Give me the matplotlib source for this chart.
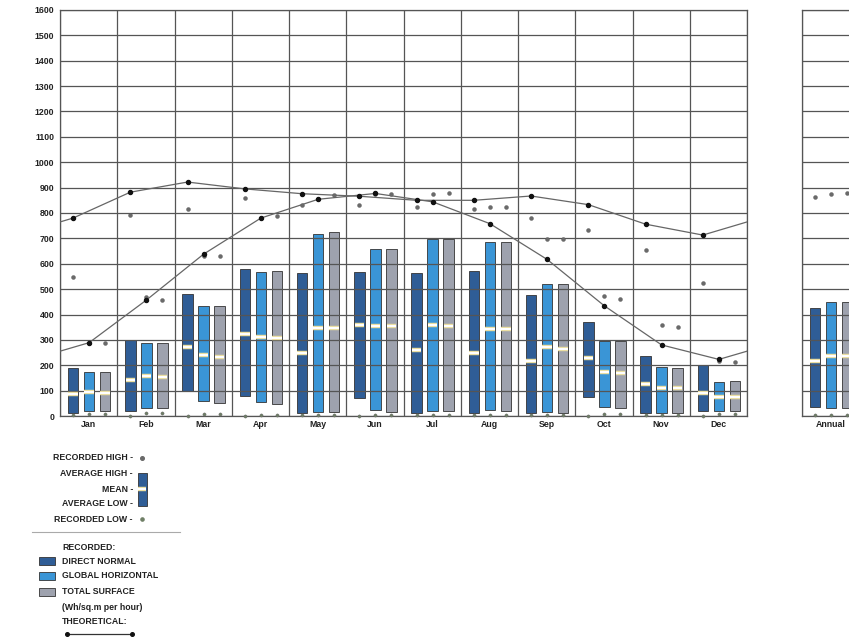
import numpy as np
import matplotlib
matplotlib.use('Agg')
import matplotlib.pyplot as plt
from matplotlib.patches import Rectangle

plt.rcParams['font.family'] = ['Liberation Sans', 'DejaVu Sans']

months = ['Jan', 'Feb', 'Mar', 'Apr', 'May', 'Jun', 'Jul', 'Aug', 'Sep', 'Oct', 'Nov', 'Dec']

# recorded radiation (Wh/sq.m per hour): average high / average low / mean / recorded high / recorded low
directHigh = [188, 298, 480, 580, 562, 568, 565, 572, 476, 371, 236, 201]
directLow = [11, 21, 100, 79, 10, 72, 10, 10, 10, 76, 10, 21]
directMean = [85, 142, 273, 323, 249, 358, 260, 249, 218, 230, 125, 89]
directRecHigh = [548, 791, 814, 860, 833, 833, 824, 814, 781, 732, 654, 526]
directRecLow = [2, 0, 0, 0, 3, 0, 3, 3, 3, 0, 3, 0]

globalHigh = [172, 289, 433, 567, 719, 657, 697, 686, 522, 297, 194, 135]
globalLow = [20, 30, 60, 55, 17, 24, 21, 24, 17, 37, 10, 21]
globalMean = [93, 157, 240, 310, 348, 356, 358, 341, 270, 175, 112, 74]
globalRecHigh = [289, 467, 630, 780, 854, 875, 875, 824, 696, 472, 358, 215]
globalRecLow = [6, 10, 8, 3, 3, 5, 5, 5, 5, 8, 3, 8]

totalHigh = [173, 286, 433, 571, 726, 660, 697, 686, 520, 297, 188, 139]
totalLow = [21, 30, 50, 46, 17, 14, 21, 21, 13, 30, 10, 21]
totalMean = [89, 155, 234, 306, 348, 356, 356, 341, 266, 168, 109, 76]
totalRecHigh = [287, 459, 630, 787, 870, 873, 877, 824, 696, 463, 349, 214]
totalRecLow = [6, 10, 8, 3, 3, 5, 5, 5, 5, 8, 3, 8]

# theoretical clear sky values
theoDirect = [780, 882, 922, 895, 876, 866, 850, 850, 867, 833, 756, 713]
theoGlobal = [289, 457, 638, 780, 854, 877, 844, 758, 617, 434, 280, 223]

# annual summary: direct, global, total
annualHigh = [424, 450, 450]
annualLow = [35, 30, 30]
annualMean = [217, 236, 236]
annualRecHigh = [864, 873, 877]
annualRecLow = [4, 4, 4]

colDirect = '#2f5d96'
colGlobal = '#3a95d6'
colTotal = '#9ea2ae'
gridCol = '#555555'
txtCol = '#222222'
fs = 6.3
W, H = 849, 637

offsets = [0.228, 0.509, 0.789]
barW = 0.185


def drawBar(ax, x, lo, hi, mean, recHi, recLo, col):
    ax.bar(x, hi - lo, bottom=lo, width=barW, color=col, edgecolor='#333333',
           linewidth=0.6, zorder=1)
    ax.hlines(mean, x - barW/2 + 0.01, x + barW/2 - 0.01, color='#e9dc98', lw=3.2, zorder=4)
    ax.hlines(mean, x - barW/2 + 0.01, x + barW/2 - 0.01, color='white', lw=1.6, zorder=5)
    ax.plot(x, recHi, 'o', ms=2.8, color='#6a6a6a', mec='#555555', mew=0.3, zorder=6)
    ax.plot(x, recLo, 'o', ms=2.3, color='#6f7f66', mec='#666666', mew=0.3, zorder=6,
            clip_on=False)


def styleAxes(ax):
    ax.set_ylim(0, 1600)
    ax.set_yticks(np.arange(0, 1601, 100))
    ax.grid(True, color=gridCol, lw=0.9)
    ax.set_axisbelow(False)
    for s in ax.spines.values():
        s.set_color(gridCol)
        s.set_linewidth(0.9)
    ax.tick_params(length=0)


fig = plt.figure(figsize=(W/100, H/100), dpi=100)
fig.patch.set_facecolor('white')

ax = fig.add_axes([60/W, 1 - 416/H, 687/W, 406/H])
styleAxes(ax)
ax.set_xlim(0, 12)
ax.set_xticks(np.arange(0, 13))
ax.set_xticklabels([])
ax.set_xticks(np.arange(12) + 0.5, minor=True)
ax.set_xticklabels(months, minor=True, fontsize=fs, fontweight='bold', color=txtCol)
ax.tick_params(axis='x', which='minor', length=0, pad=3)
ax.tick_params(axis='y', labelsize=fs, pad=4, labelcolor=txtCol)
for t in ax.get_yticklabels():
    t.set_fontweight('bold')

series = [
    (directLow, directHigh, directMean, directRecHigh, directRecLow, colDirect),
    (globalLow, globalHigh, globalMean, globalRecHigh, globalRecLow, colGlobal),
    (totalLow, totalHigh, totalMean, totalRecHigh, totalRecLow, colTotal),
]
for i in range(12):
    for k, (lo, hi, mn, rh, rl, col) in enumerate(series):
        drawBar(ax, i + offsets[k], lo[i], hi[i], mn[i], rh[i], rl[i], col)

# theoretical curves wrap round the year, clipped at the axes edges
for vals, off in [(theoDirect, offsets[0]), (theoGlobal, offsets[1])]:
    xs = np.concatenate([[off - 1], np.arange(12) + off, [12 + off]])
    ys = np.concatenate([[vals[-1]], vals, [vals[0]]])
    ax.plot(xs, ys, color='#666666', lw=0.9, zorder=3)
    ax.plot(np.arange(12) + off, vals, 'o', ms=2.9, color='#111111', zorder=7)

# annual panel
axA = fig.add_axes([802/W, 1 - 416/H, 57/W, 406/H])
styleAxes(axA)
axA.set_xlim(0, 1)
axA.set_xticks([0, 1])
axA.set_xticklabels([])
axA.set_xticks([0.5], minor=True)
axA.set_xticklabels(['Annual'], minor=True, fontsize=fs, fontweight='bold', color=txtCol)
axA.tick_params(axis='x', which='minor', length=0, pad=3)
axA.set_yticklabels([])
for k, col in enumerate([colDirect, colGlobal, colTotal]):
    drawBar(axA, offsets[k], annualLow[k], annualHigh[k], annualMean[k],
            annualRecHigh[k], annualRecLow[k], col)

# key below the chart, laid out in pixel coordinates
leg = fig.add_axes([0, 0, 1, 1])
leg.set_xlim(0, W)
leg.set_ylim(H, 0)
leg.axis('off')
leg.patch.set_visible(False)

keyRows = [('RECORDED HIGH -', 458), ('AVERAGE HIGH -', 473), ('MEAN -', 489),
           ('AVERAGE LOW -', 504), ('RECORDED LOW -', 519)]
for txt, y in keyRows:
    leg.text(133, y, txt, ha='right', va='center', fontsize=fs, fontweight='bold', color=txtCol)
leg.plot(142, 458, 'o', ms=2.6, color='#6a6a6a')
leg.add_patch(Rectangle((138, 473), 9, 33, facecolor=colDirect, edgecolor='#333333', lw=0.6))
leg.hlines(489, 138.5, 146.5, color='#e9dc98', lw=3.2)
leg.hlines(489, 138.5, 146.5, color='white', lw=1.6)
leg.plot(142, 519, 'o', ms=2.3, color='#6f7f66')
leg.plot([32, 180], [532, 532], color='#aaaaaa', lw=0.8)

leg.text(62, 547, 'RECORDED:', ha='left', va='center', fontsize=fs, fontweight='bold', color=txtCol)
for (txt, col), y in zip([('DIRECT NORMAL', colDirect), ('GLOBAL HORIZONTAL', colGlobal),
                          ('TOTAL SURFACE', colTotal)], [561, 576, 592]):
    leg.add_patch(Rectangle((39, y - 4), 16, 8, facecolor=col, edgecolor='#333333', lw=0.6))
    leg.text(62, y, txt, ha='left', va='center', fontsize=fs, fontweight='bold', color=txtCol)
leg.text(62, 607, '(Wh/sq.m per hour)', ha='left', va='center', fontsize=fs, fontweight='bold', color=txtCol)
leg.text(62, 622, 'THEORETICAL:', ha='left', va='center', fontsize=fs, fontweight='bold', color=txtCol)
leg.plot([67, 132], [634, 634], color='#333333', lw=0.9)
leg.plot([67, 132], [634, 634], 'o', ms=2.6, color='#111111')

fig.savefig('out.png', dpi=100)
